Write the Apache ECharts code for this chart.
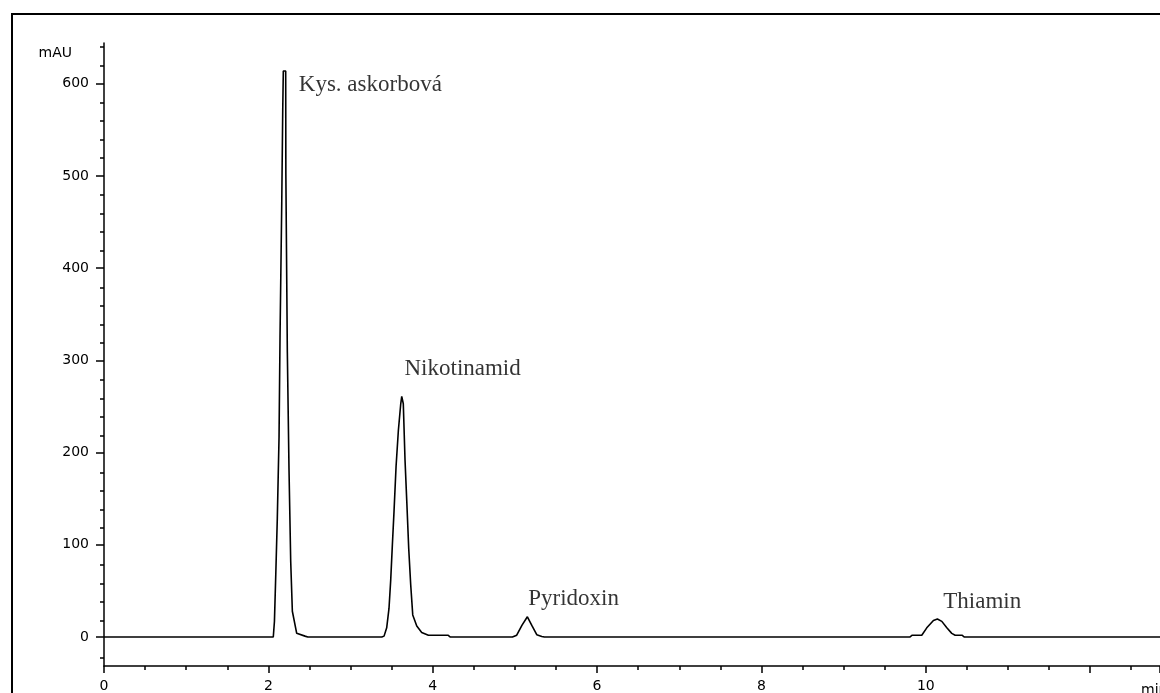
<!DOCTYPE html>
<html>
<head>
<meta charset="utf-8">
<title>Chromatogram</title>
<script src="https://cdn.jsdelivr.net/npm/echarts@6/dist/echarts.min.js"></script>
<style>
  html, body { margin: 0; padding: 0; background: #fff; }
  #chart { width: 1160px; height: 693px; }
</style>
</head>
<body>
<div id="chart"></div>
<script>
// retention time (min) and detector signal (mAU)
var retentionTimes = [
  0, 2.060, 2.074, 2.090, 2.109, 2.130, 2.142, 2.163, 2.175, 2.182, 2.211, 2.213,
  2.231, 2.251, 2.272, 2.292, 2.345, 2.446, 2.480,
  3.380, 3.408, 3.440, 3.468, 3.489, 3.509, 3.529, 3.554, 3.582, 3.611, 3.623,
  3.642, 3.663, 3.684, 3.708, 3.732, 3.757, 3.806, 3.866, 3.947, 4.185, 4.215,
  4.970, 5.022, 5.087, 5.152, 5.209, 5.266, 5.327, 5.360,
  9.805, 9.835, 9.951, 10.012, 10.093, 10.141, 10.195, 10.256, 10.316, 10.357,
  10.440, 10.470, 12.85
];
var absorbance = [
  0, 0, 17, 67, 129, 217, 326, 471, 572, 614, 614, 502,
  309, 183, 82, 28, 4, 1, 0,
  0, 1, 10, 31, 62, 100, 136, 185, 224, 253, 261,
  253, 192, 148, 96, 57, 24, 12, 5, 2, 2, 0,
  0, 2, 13, 22, 12, 2.5, 0.7, 0,
  0, 2, 2, 10, 18, 19.5, 17, 10, 4, 2,
  2, 0, 0
];

// peak annotations
var peakNames = ['Kys. askorbová', 'Nikotinamid', 'Pyridoxin', 'Thiamin'];
var peakTimes = [2.20, 3.62, 5.15, 10.14];
var peakHeights = [614, 261, 22, 19.5];

// axis ticks
var xTicks = [0, 2, 4, 6, 8, 10, 12];
var yMajorTicks = [0, 100, 200, 300, 400, 500, 600];
var yMinorTicks = [-20, 20, 40, 60, 80, 120, 140, 160, 180, 220, 240, 260, 280,
  320, 340, 360, 380, 420, 440, 460, 480, 520, 540, 560, 580, 620, 640];

var xMin = 0, xMax = 12.85;
var yMin = -31.4, yMax = 644.3;

var chart = echarts.init(document.getElementById('chart'));

var trace = retentionTimes.map(function (t, i) { return [t, absorbance[i]]; });

var labelOffsets = [[14, 14], [3, -27], [1, -18], [6, -17]];
var peakPoints = peakNames.map(function (n, i) {
  return {
    name: n,
    value: [peakTimes[i], peakHeights[i]],
    label: { offset: labelOffsets[i] }
  };
});

var sansFont = 'DejaVu Sans';
var gridBox = { left: 104, top: 43, right: 0, bottom: 25 };

chart.setOption({
  animation: false,
  backgroundColor: '#fff',
  grid: [
    Object.assign({}, gridBox),
    Object.assign({}, gridBox)
  ],
  xAxis: [
    {
      type: 'value',
      gridIndex: 0,
      min: xMin,
      max: xMax,
      interval: 2,
      axisLine: { show: true, onZero: false, lineStyle: { color: '#000', width: 1.5 } },
      axisTick: { show: true, length: 7, lineStyle: { color: '#000', width: 1.5 } },
      minorTick: { show: true, splitNumber: 4, length: 4, lineStyle: { color: '#000', width: 1.5 } },
      axisLabel: {
        margin: 13,
        color: '#000',
        fontFamily: sansFont,
        fontSize: 14,
        showMaxLabel: false,
        customValues: xTicks
      },
      splitLine: { show: false }
    },
    {
      type: 'value',
      gridIndex: 1,
      min: xMin,
      max: xMax,
      show: false
    }
  ],
  yAxis: [
    {
      type: 'value',
      gridIndex: 0,
      min: yMin,
      max: yMax,
      axisLine: { show: true, onZero: false, lineStyle: { color: '#000', width: 1.5 } },
      axisTick: { show: true, length: 8, customValues: yMajorTicks, lineStyle: { color: '#000', width: 1.5 } },
      axisLabel: {
        margin: 15,
        color: '#000',
        fontFamily: sansFont,
        fontSize: 14,
        customValues: yMajorTicks
      },
      splitLine: { show: false }
    },
    {
      type: 'value',
      gridIndex: 1,
      min: yMin,
      max: yMax,
      axisLine: { show: false },
      axisTick: { show: true, length: 4, customValues: yMinorTicks, lineStyle: { color: '#000', width: 1.5 } },
      axisLabel: { show: false },
      splitLine: { show: false }
    }
  ],
  series: [
    {
      name: 'signal',
      type: 'line',
      xAxisIndex: 0,
      yAxisIndex: 0,
      data: trace,
      smooth: false,
      showSymbol: false,
      symbol: 'none',
      lineStyle: { color: '#000', width: 1.6 },
      z: 3
    },
    {
      name: 'peaks',
      type: 'scatter',
      xAxisIndex: 0,
      yAxisIndex: 0,
      symbolSize: 0,
      data: peakPoints,
      label: {
        show: true,
        position: 'right',
        distance: 0,
        align: 'left',
        verticalAlign: 'middle',
        formatter: '{b}',
        color: '#000',
        fontFamily: 'Liberation Serif',
        fontSize: 23
      },
      z: 4
    }
  ],
  graphic: [
    {
      type: 'rect',
      shape: { x: 12, y: 14, width: 1200, height: 720 },
      style: { fill: 'none', stroke: '#000', lineWidth: 2 },
      silent: true
    },
    {
      type: 'text',
      x: 72,
      y: 53,
      style: {
        text: 'mAU',
        fill: '#000',
        font: '14px "DejaVu Sans"',
        textAlign: 'right',
        textVerticalAlign: 'middle'
      }
    },
    {
      type: 'text',
      x: 1141,
      y: 683,
      style: {
        text: 'min',
        fill: '#000',
        font: '14px "DejaVu Sans"',
        textAlign: 'left',
        textVerticalAlign: 'top'
      }
    }
  ]
});
</script>
</body>
</html>
